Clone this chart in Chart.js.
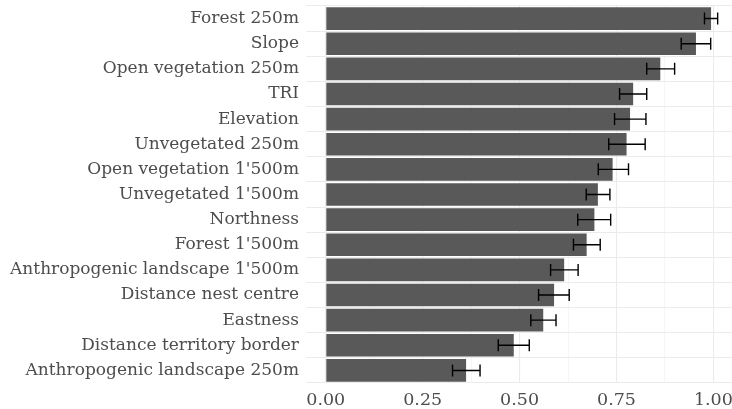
<!DOCTYPE html>
<html>
<head>
<meta charset="utf-8">
<script src="https://cdn.jsdelivr.net/npm/chart.js@4/dist/chart.umd.min.js"></script>
<style>
  html, body { margin: 0; padding: 0; background: #ffffff; }
  #wrap { position: relative; width: 732px; height: 409px; }
</style>
</head>
<body>
<div id="wrap"><canvas id="chart"></canvas></div>
<script>
// Variable importance (mean with lower / upper interval)
const variables = [
  "Forest 250m",
  "Slope",
  "Open vegetation 250m",
  "TRI",
  "Elevation",
  "Unvegetated 250m",
  "Open vegetation 1'500m",
  "Unvegetated 1'500m",
  "Northness",
  "Forest 1'500m",
  "Anthropogenic landscape 1'500m",
  "Distance nest centre",
  "Eastness",
  "Distance territory border",
  "Anthropogenic landscape 250m"
];
const importance = [0.994, 0.955, 0.863, 0.793, 0.785, 0.776, 0.740, 0.702, 0.693, 0.673, 0.615, 0.589, 0.561, 0.485, 0.362];
const lowerCI    = [0.977, 0.917, 0.828, 0.758, 0.745, 0.730, 0.703, 0.672, 0.650, 0.639, 0.580, 0.549, 0.529, 0.445, 0.327];
const upperCI    = [1.011, 0.993, 0.900, 0.828, 0.826, 0.824, 0.781, 0.733, 0.735, 0.708, 0.651, 0.628, 0.594, 0.525, 0.398];

const xTickValues = [0, 0.125, 0.25, 0.375, 0.5, 0.625, 0.75, 0.875, 1.0];
const xTickLabels = { 0: "0.00", 0.25: "0.25", 0.5: "0.50", 0.75: "0.75", 1: "1.00" };

const FONT = "'DejaVu Serif', serif";
const TEXT = "#4d4d4d";
const GRID = "#ebebeb";

// Horizontal error bars with end caps
const errorBars = {
  id: "errorBars",
  afterDatasetsDraw(chart) {
    const { ctx, scales: { x } } = chart;
    const meta = chart.getDatasetMeta(0);
    ctx.save();
    ctx.strokeStyle = "#000000";
    ctx.lineWidth = 1.4;
    meta.data.forEach((bar, i) => {
      const yc = bar.y;
      const x0 = x.getPixelForValue(lowerCI[i]);
      const x1 = x.getPixelForValue(upperCI[i]);
      const cap = 6;
      ctx.beginPath();
      ctx.moveTo(x0, yc); ctx.lineTo(x1, yc);
      ctx.moveTo(x0, yc - cap); ctx.lineTo(x0, yc + cap);
      ctx.moveTo(x1, yc - cap); ctx.lineTo(x1, yc + cap);
      ctx.stroke();
    });
    ctx.restore();
  }
};

new Chart(document.getElementById("chart"), {
  type: "bar",
  data: {
    labels: variables,
    datasets: [{
      data: importance,
      backgroundColor: "#595959",
      borderWidth: 0,
      barPercentage: 0.9,
      categoryPercentage: 1.0
    }]
  },
  options: {
    indexAxis: "y",
    responsive: true,
    maintainAspectRatio: false,
    animation: false,
    layout: { padding: { top: 6, right: 0, left: 0, bottom: 0 } },
    plugins: { legend: { display: false }, tooltip: { enabled: false } },
    scales: {
      x: {
        type: "linear",
        min: -0.051,
        max: 1.048,
        border: { display: false },
        afterBuildTicks(scale) {
          scale.ticks = xTickValues.map(v => ({ value: v }));
        },
        afterFit(scale) {
          scale.height = 26;
          scale.paddingLeft = 0;
          scale.paddingRight = 0;
        },
        grid: {
          drawTicks: false,
          color: ctx => (ctx.tick && xTickLabels[ctx.tick.value] !== undefined) ? GRID : "#f2f2f2",
          lineWidth: ctx => (ctx.tick && xTickLabels[ctx.tick.value] !== undefined) ? 1.1 : 0.8
        },
        ticks: {
          autoSkip: false,
          maxRotation: 0,
          padding: 7,
          color: TEXT,
          font: { family: FONT, size: 17.5 },
          callback: v => (xTickLabels[v] !== undefined ? xTickLabels[v] : "")
        }
      },
      y: {
        type: "category",
        border: { display: false },
        afterFit(scale) {
          scale.width = 306;
          scale.paddingTop = 0;
          scale.paddingBottom = 0;
        },
        grid: { drawTicks: false, color: GRID, lineWidth: 1.1 },
        ticks: {
          padding: 7,
          color: TEXT,
          font: { family: FONT, size: 17 }
        }
      }
    }
  },
  plugins: [errorBars]
});
</script>
</body>
</html>
